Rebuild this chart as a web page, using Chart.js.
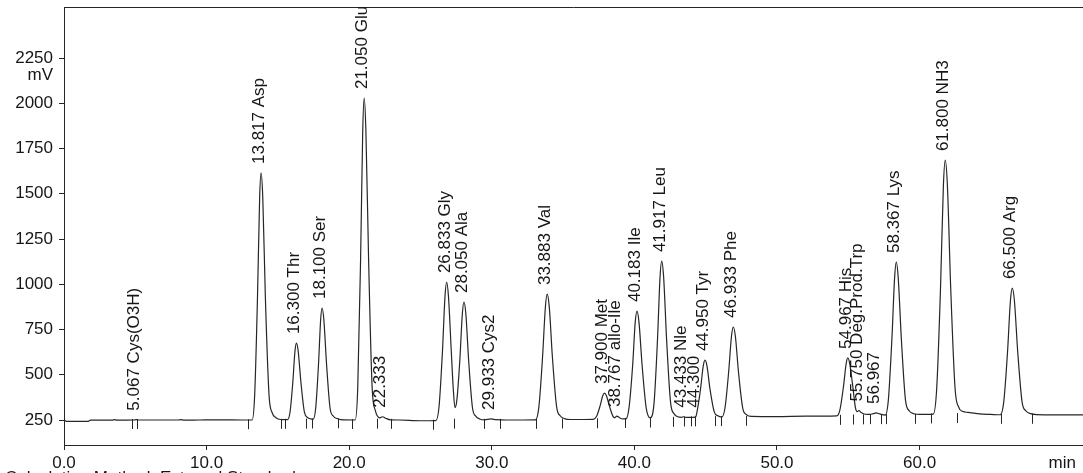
<!DOCTYPE html>
<html>
<head>
<meta charset="utf-8">
<script src="https://cdn.jsdelivr.net/npm/chart.js@4/dist/chart.umd.min.js"></script>
<style>
  html, body { margin: 0; padding: 0; background: #fff; overflow: hidden; }
  #wrap { position: relative; width: 1083px; height: 473px; }
</style>
</head>
<body>
<div id="wrap"><canvas id="chrom"></canvas></div>
<script>
// Detector trace: retention time (min) and signal (mV)
const traceTimes = [
  0.0, 0.15, 1.7, 1.85, 3.4, 3.55, 3.7, 4.9, 5.067, 5.25, 8.0, 8.2, 8.4, 9.5, 11.0, 12.5,
  13.19, 13.37, 13.57, 13.72, 13.817, 13.94, 14.12, 14.38, 14.6, 14.86, 15.2,
  15.67, 15.85, 16.05, 16.2, 16.3, 16.42, 16.61, 16.86, 17.08, 17.3,
  17.47, 17.65, 17.85, 18.0, 18.1, 18.22, 18.41, 18.66, 18.88, 19.15, 19.4,
  20.42, 20.6, 20.8, 20.95, 21.05, 21.17, 21.36, 21.61, 21.83, 22.15, 22.333, 22.55, 22.9, 23.5, 25.0,
  26.08, 26.3, 26.54, 26.72, 26.833, 26.96, 27.16, 27.3, 27.42,
  27.55, 27.755, 27.935, 28.05, 28.18, 28.38, 28.65, 28.89, 29.15,
  29.5, 29.933, 30.3, 31.0,
  33.07, 33.3, 33.56, 33.76, 33.883, 34.03, 34.25, 34.55, 34.81, 35.1, 35.5,
  37.12, 37.34, 37.59, 37.78, 37.9, 38.04, 38.25, 38.5, 38.62, 38.767, 38.92, 39.1,
  39.4, 39.62, 39.88, 40.06, 40.183, 40.32, 40.54, 40.83, 41.12,
  41.38, 41.62, 41.8, 41.917, 42.05, 42.26, 42.54, 42.79, 43.05,
  43.3, 43.433, 43.6, 44.15, 44.3,
  44.42, 44.64, 44.83, 44.95, 45.09, 45.3, 45.6, 45.85,
  46.12, 46.35, 46.61, 46.81, 46.933, 47.08, 47.3, 47.6, 47.86, 48.2, 50.0, 52.0,
  54.19, 54.41, 54.66, 54.85, 54.967, 55.1, 55.32, 55.5, 55.62, 55.75, 55.9, 56.2, 56.5, 56.75, 56.967, 57.2,
  57.59, 57.81, 58.06, 58.25, 58.367, 58.5, 58.72, 59.01, 59.27, 59.6, 60.0,
  60.96, 61.2, 61.47, 61.67, 61.8, 61.95, 62.18, 62.49, 62.76, 63.0, 63.4, 64.2, 65.0,
  65.66, 65.9, 66.17, 66.37, 66.5, 66.65, 66.88, 67.19, 67.46, 67.8, 68.2, 71.5
];
const traceMv = [
  253, 243, 243, 249, 249, 252, 249, 250, 252, 250, 250, 252, 249, 250, 251, 250,
  250, 386, 932, 1478, 1615, 1478, 932, 386, 290, 263, 253,
  252, 293, 463, 633, 675, 633, 463, 293, 264, 256,
  254, 315, 561, 807, 869, 807, 561, 315, 272, 258, 252,
  250, 428, 1140, 1851, 2029, 1851, 1140, 428, 303, 262, 268, 260, 251, 250, 246,
  247, 323, 629, 935, 1012, 935, 629, 420, 318,
  360, 576, 837, 902, 837, 576, 315, 270, 256,
  251, 256, 252, 250,
  251, 321, 598, 876, 946, 876, 598, 321, 272, 258, 253,
  254, 269, 327, 384, 399, 384, 327, 270, 262, 272, 265, 257,
  256, 316, 554, 792, 852, 792, 554, 316, 262,
  345, 693, 1041, 1128, 1041, 693, 345, 284, 268,
  265, 268, 265, 265, 268,
  308, 422, 549, 581, 549, 422, 295, 273,
  266, 315, 515, 714, 764, 714, 515, 315, 280, 270, 269, 271,
  273, 305, 433, 561, 593, 561, 433, 318, 296, 302, 292, 282, 281, 285, 289, 284,
  277, 361, 700, 1038, 1123, 1038, 700, 361, 301, 285, 281,
  283, 423, 985, 1546, 1686, 1546, 985, 423, 318, 298, 292, 284, 281,
  279, 349, 629, 909, 979, 909, 629, 349, 300, 285, 280, 278
];

// Identified peaks: retention time, compound, apex height (mV)
const peakTimes = [5.067, 13.817, 16.300, 18.100, 21.050, 22.333, 26.833, 28.050, 29.933, 33.883,
  37.900, 38.767, 40.183, 41.917, 43.433, 44.300, 44.950, 46.933, 54.967, 55.750, 56.967, 58.367, 61.800, 66.500];
const peakNames = ['Cys(O3H)', 'Asp', 'Thr', 'Ser', 'Glu', '', 'Gly', 'Ala', 'Cys2', 'Val',
  'Met', 'allo-Ile', 'Ile', 'Leu', 'Nle', '', 'Tyr', 'Phe', 'His', 'Deg.Prod.Trp', '', 'Lys', 'NH3', 'Arg'];
const peakApexMv = [252, 1615, 675, 869, 2029, 268, 1012, 902, 256, 946,
  399, 272, 852, 1128, 268, 268, 581, 764, 593, 302, 289, 1123, 1686, 979];

// Integration start/end marks: time (min) and baseline level (mV)
const markerTimes = [4.77, 5.12, 12.9, 15.2, 15.5, 17.0, 17.4, 19.2, 20.2, 21.95, 22.9, 25.9, 27.35,
  29.45, 30.6, 33.1, 34.9, 37.35, 39.35, 41.1, 42.7, 43.45, 43.95, 44.25, 45.65, 46.1, 47.85,
  54.4, 55.35, 56.05, 56.5, 57.3, 57.65, 59.7, 60.8, 62.6, 65.7, 67.9];
const markerMv = [250, 250, 249, 251, 251, 252, 253, 254, 250, 252, 251, 246, 252,
  251, 251, 251, 253, 254, 256, 258, 262, 264, 265, 265, 266, 266, 268,
  273, 275, 276, 277, 277, 277, 279, 281, 283, 279, 279];

// Axis ticks
const xTickValues = [0, 10, 20, 30, 40, 50, 60, 70];
const xTickLabels = ['0.0', '10.0', '20.0', '30.0', '40.0', '50.0', '60.0', 'min'];
const yTickValues = [250, 500, 750, 1000, 1250, 1500, 1750, 2000, 2250];
const yUnit = 'mV';
const footerText = 'Calculation Method: External Standard';

const INK = '#262626';
const TEXT = '#161616';
const FONT_FAMILY = '"Liberation Sans", Arial, sans-serif';

const chromAnnotations = {
  id: 'chromAnnotations',
  afterDatasetsDraw(chart) {
    const { ctx, chartArea, scales: { x, y } } = chart;
    ctx.save();

    // frame line along the top
    ctx.strokeStyle = INK;
    ctx.lineWidth = 1;
    ctx.beginPath();
    ctx.moveTo(chartArea.left, chartArea.top + 0.5);
    ctx.lineTo(chartArea.right, chartArea.top + 0.5);
    ctx.stroke();

    // integration marks below the baseline
    ctx.strokeStyle = INK;
    ctx.beginPath();
    markerTimes.forEach((t, i) => {
      const px = Math.round(x.getPixelForValue(t)) + 0.5;
      const py = y.getPixelForValue(markerMv[i]);
      ctx.moveTo(px, py - 1);
      ctx.lineTo(px, py + 9);
    });
    ctx.stroke();

    // peak labels, reading upward from each apex
    ctx.font = '17px ' + FONT_FAMILY;
    ctx.fillStyle = TEXT;
    ctx.textAlign = 'left';
    ctx.textBaseline = 'alphabetic';
    peakTimes.forEach((t, i) => {
      const px = x.getPixelForValue(t) + 3;
      const py = y.getPixelForValue(peakApexMv[i]) - 9;
      const text = t.toFixed(3) + (peakNames[i] ? ' ' + peakNames[i] : '');
      ctx.save();
      ctx.translate(px, py);
      ctx.rotate(-Math.PI / 2);
      ctx.fillText(text, 0, 0);
      ctx.restore();
    });

    // unit under the top y tick
    ctx.textAlign = 'right';
    ctx.textBaseline = 'middle';
    ctx.fillText(yUnit, 53, y.getPixelForValue(2250) + 17);

    // report footer
    ctx.textAlign = 'left';
    ctx.textBaseline = 'alphabetic';
    ctx.fillText(footerText, 5, 483);
    ctx.restore();
  }
};

new Chart(document.getElementById('chrom'), {
  type: 'line',
  data: {
    datasets: [{
      data: traceTimes.map((t, i) => ({ x: t, y: traceMv[i] })),
      borderColor: INK,
      borderWidth: 1.2,
      pointRadius: 0,
      cubicInterpolationMode: 'monotone',
      fill: false
    }]
  },
  options: {
    responsive: true,
    maintainAspectRatio: false,
    animation: false,
    events: [],
    layout: { padding: { top: 7, left: 0, right: 0, bottom: 0 } },
    plugins: { legend: { display: false }, tooltip: { enabled: false } },
    scales: {
      x: {
        type: 'linear',
        min: 0,
        max: 71.46,
        afterBuildTicks: (s) => { s.ticks = xTickValues.map(v => ({ value: v })); },
        afterFit: (s) => { s.height = 28; s.paddingLeft = 0; s.paddingRight = 0; },
        ticks: {
          autoSkip: false,
          maxRotation: 0,
          padding: 3,
          color: TEXT,
          font: { family: FONT_FAMILY, size: 17 },
          callback: (v, i) => xTickLabels[i]
        },
        grid: {
          drawOnChartArea: false,
          tickLength: 5,
          color: (c) => (c.tick && c.tick.value === 70) ? 'rgba(0,0,0,0)' : INK
        },
        border: { color: INK, width: 1 }
      },
      y: {
        type: 'linear',
        min: 112,
        max: 2532,
        afterBuildTicks: (s) => { s.ticks = yTickValues.map(v => ({ value: v })); },
        afterFit: (s) => { s.width = 64; s.paddingTop = 0; s.paddingBottom = 0; },
        ticks: {
          padding: 6,
          color: TEXT,
          font: { family: FONT_FAMILY, size: 17 },
          callback: (v) => String(v)
        },
        grid: { drawOnChartArea: false, tickLength: 5, color: INK },
        border: { color: INK, width: 1 }
      }
    }
  },
  plugins: [chromAnnotations]
});
</script>
</body>
</html>
